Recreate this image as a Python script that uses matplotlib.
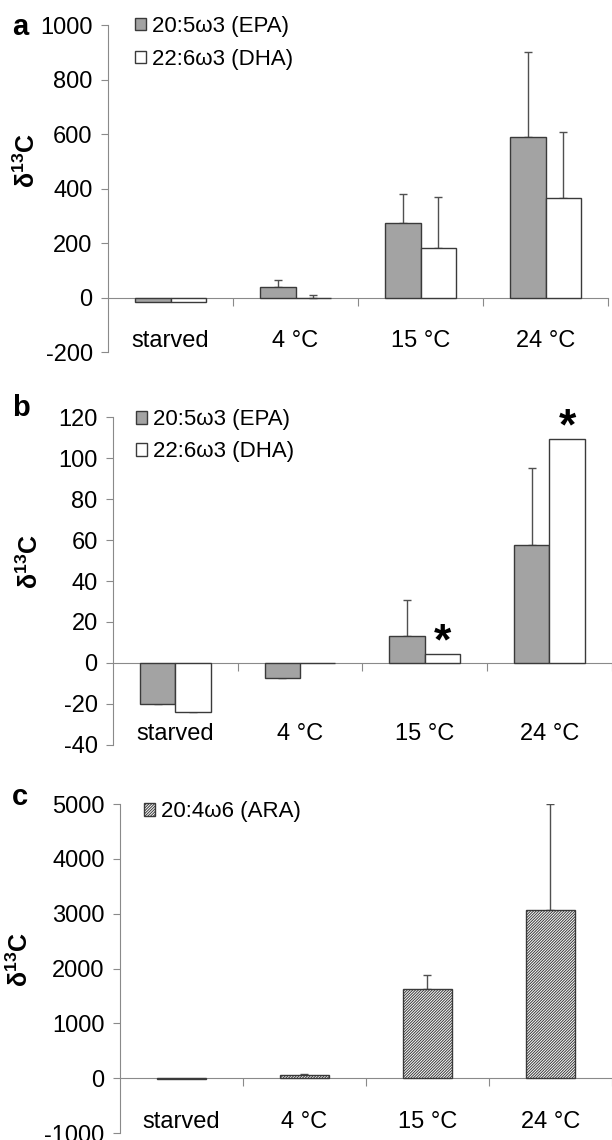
import matplotlib
matplotlib.use("Agg")
import matplotlib.pyplot as plt
import matplotlib.transforms as mtransforms
import numpy as np

plt.rcParams['font.family'] = ['Liberation Sans', 'DejaVu Sans']
plt.rcParams['axes.unicode_minus'] = False
plt.rcParams['mathtext.fontset'] = 'custom'
plt.rcParams['mathtext.rm'] = 'Liberation Sans'
plt.rcParams['mathtext.bf'] = 'Liberation Sans:bold'
plt.rcParams['hatch.linewidth'] = 0.7

# data
groups = ['starved', '4 °C', '15 °C', '24 °C']

# panel a
a_epa = [-18, 37, 274, 590]
a_epa_err = [0, 27, 105, 312]
a_dha = [-18, -3, 182, 365]
a_dha_err = [0, 13, 186, 242]

# panel b
b_epa = [-20, -7.1, 13.2, 57.5]
b_epa_err = [0.9, 2.7, 17.5, 37.8]
b_dha = [-23.7, 0, 4.4, 109.4]
b_dha_err = [0.3, 0, 0, 0]
b_stars = [False, False, True, True]

# panel c
c_ara = [-15, 55, 1634, 3061]
c_ara_err = [0, 30, 244, 1939]

EDGE = '#3a3a3a'
AXC = '#8a8a8a'
FS = 17
LFS = 16
YLAB = r'$\mathbf{\delta^{13}C}$'

fig = plt.figure(figsize=(6.12, 11.4), dpi=100)


def style_axes(ax, ylim, yticks):
    ax.set_xlim(0, 4)
    ax.set_ylim(*ylim)
    ax.set_yticks(yticks)
    for s in ['top', 'right']:
        ax.spines[s].set_visible(False)
    ax.spines['left'].set_color(AXC)
    ax.spines['bottom'].set_color(AXC)
    ax.spines['bottom'].set_position(('data', 0))
    ax.spines['bottom'].set_zorder(0.5)
    ax.set_xticks([1, 2, 3, 4])
    ax.tick_params(axis='x', length=6, color=AXC, labelbottom=False)
    ax.tick_params(axis='y', length=5, color=AXC, labelsize=FS, pad=6)
    trans = mtransforms.blended_transform_factory(ax.transData, ax.transAxes)
    for i, g in enumerate(groups):
        ax.text(i + 0.5, 0.035, g, transform=trans, ha='center', va='center', fontsize=FS)


def up_err(ax, x, vals, errs):
    x = np.asarray(x)
    vals = np.asarray(vals, dtype=float)
    errs = np.asarray(errs, dtype=float)
    m = errs > 0
    ax.errorbar(x[m], vals[m], yerr=[np.zeros(m.sum()), errs[m]], fmt='none',
                ecolor='#505050', elinewidth=1, capsize=3, capthick=1, zorder=1)


centers = np.arange(len(groups)) + 0.5
w = 0.284

# ---- a ----
ax1 = fig.add_axes([0.1765, 0.6912, 0.817, 0.2868])
ax1.bar(centers - w / 2, a_epa, w, color='#a3a3a3', edgecolor=EDGE, linewidth=1, label='20:5ω3 (EPA)', zorder=2)
ax1.bar(centers + w / 2, a_dha, w, color='white', edgecolor=EDGE, linewidth=1, label='22:6ω3 (DHA)', zorder=2)
up_err(ax1, centers - w / 2, a_epa, a_epa_err)
up_err(ax1, centers + w / 2, a_dha, a_dha_err)
style_axes(ax1, (-200, 1000), np.arange(-200, 1001, 200))
ax1.set_ylabel(YLAB, fontsize=18)
ax1.yaxis.set_label_coords(-0.136, 0.587)
ax1.legend(loc='upper left', bbox_to_anchor=(0.054, 1.028), frameon=False, fontsize=LFS,
           handlelength=0.5, handleheight=0.5, handletextpad=0.25, labelspacing=0.54,
           borderpad=0, borderaxespad=0)
fig.text(12 / 612, 1 - 27 / 1140, 'a', fontsize=21, fontweight='bold', va='center')

# ---- b ----
ax2 = fig.add_axes([0.1846, 0.3465, 0.815, 0.2877])
ax2.bar(centers - w / 2, b_epa, w, color='#a3a3a3', edgecolor=EDGE, linewidth=1, label='20:5ω3 (EPA)', zorder=2)
ax2.bar(centers + w / 2, b_dha, w, color='white', edgecolor=EDGE, linewidth=1, label='22:6ω3 (DHA)', zorder=2)
up_err(ax2, centers - w / 2, b_epa, b_epa_err)
up_err(ax2, centers + w / 2, b_dha, b_dha_err)
for i, s in enumerate(b_stars):
    if s:
        ax2.annotate('*', (centers[i] + w / 2, b_dha[i]), xytext=(0, -7), textcoords='offset points',
                     ha='center', va='bottom', fontsize=32, fontweight='bold')
style_axes(ax2, (-40, 120), np.arange(-40, 121, 20))
ax2.set_ylabel(YLAB, fontsize=18)
ax2.yaxis.set_label_coords(-0.14, 0.558)
ax2.legend(loc='upper left', bbox_to_anchor=(0.046, 1.024), frameon=False, fontsize=LFS,
           handlelength=0.5, handleheight=0.5, handletextpad=0.25, labelspacing=0.5,
           borderpad=0, borderaxespad=0)
fig.text(12 / 612, 1 - 408 / 1140, 'b', fontsize=21, fontweight='bold', va='center')

# ---- c ----
wc = 0.4
ax3 = fig.add_axes([0.196, 0.0061, 0.804, 0.2886])
ax3.bar(centers, c_ara, wc, color='white', edgecolor=EDGE, linewidth=1, hatch='/' * 12,
        label='20:4ω6 (ARA)', zorder=2)
up_err(ax3, centers, c_ara, c_ara_err)
style_axes(ax3, (-1000, 5000), np.arange(-1000, 5001, 1000))
ax3.set_ylabel(YLAB, fontsize=18)
ax3.yaxis.set_label_coords(-0.177, 0.526)
ax3.legend(loc='upper left', bbox_to_anchor=(0.049, 1.009), frameon=False, fontsize=LFS,
           handlelength=0.5, handleheight=0.5, handletextpad=0.25,
           borderpad=0, borderaxespad=0)
fig.text(12 / 612, 1 - 797 / 1140, 'c', fontsize=21, fontweight='bold', va='center')

fig.savefig('out.png', dpi=100)
